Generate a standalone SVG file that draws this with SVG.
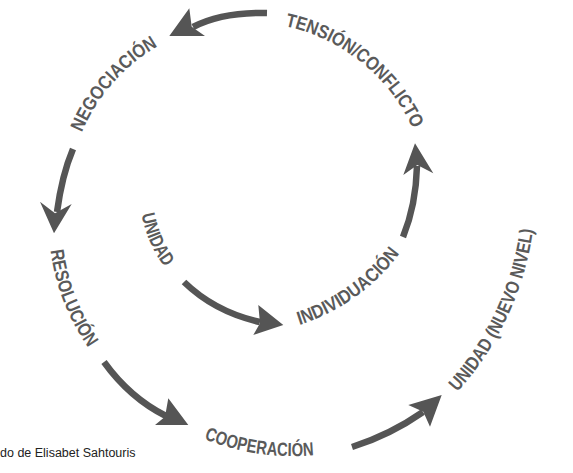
<svg xmlns="http://www.w3.org/2000/svg" width="573" height="473" viewBox="0 0 573 473">
<style>
.lbl{font-family:"Liberation Sans Narrow","Liberation Sans",Arial,sans-serif;font-weight:bold;font-size:19px;fill:#5a5a5a}
.shaft{fill:none;stroke:#555;stroke-width:6.5}
.head{fill:#555}
.credit{font-family:"Liberation Sans",Arial,sans-serif;font-size:12.5px;fill:#222}
</style>
<defs>
<path id="pTension" d="M285,26 A182.7,182.7 0 0 1 413.5,130.3"/>
<path id="pNeg" d="M81.8,132.6 A180,180 0 0 1 159.3,45.5"/>
<path id="pRes" d="M50.6,250.6 A220,220 0 0 0 89,348.8"/>
<path id="pCoop" d="M204,439 A240,240 0 0 0 316,455"/>
<path id="pUnN" d="M457.3,392 A300,300 0 0 0 533.2,227.8"/>
<path id="pInd" d="M299.4,324.9 A200,200 0 0 0 400.5,252.3"/>
<path id="pUni" d="M141.6,214.4 A130,130 0 0 0 165.5,268.5"/>
</defs>
<g id="connectors">
<g id="a1"><path class="shaft" d="M267,13 Q222,12 193,27"/><polygon class="head" points="189.3,8.3 169.3,36 205,36 191.7,26.7"/></g>
<g id="a2"><path class="shaft" d="M73,149 Q62,175 57,212"/><polygon class="head" points="40,201.7 54,233.3 71.7,204 55,213.3"/></g>
<g id="a3"><path class="shaft" d="M104,362 Q130,398 166,416"/><polygon class="head" points="168.3,398.3 188.3,425 155,425 165,416.7"/></g>
<g id="a4"><path class="shaft" d="M352,447 Q390,435 423,412"/><polygon class="head" points="408.3,405 441.7,395 430,426.7 423.3,411.7"/></g>
<g id="a5"><path class="shaft" d="M184,282 Q215,312 260,322"/><polygon class="head" points="258.3,305 283.3,325 253.3,335 260,323.3"/></g>
<g id="a6"><path class="shaft" d="M403,237 Q416,205 417,166"/><polygon class="head" points="403.3,175 415,143.3 433.3,173.3 417.3,165"/></g>
</g>
<g id="tension"><text class="lbl"><textPath href="#pTension" textLength="170" lengthAdjust="spacingAndGlyphs">TENSIÓN/CONFLICTO</textPath></text></g>
<g id="negociacion"><text class="lbl"><textPath href="#pNeg" textLength="117" lengthAdjust="spacingAndGlyphs">NEGOCIACIÓN</textPath></text></g>
<g id="resolucion"><text class="lbl"><textPath href="#pRes" textLength="105" lengthAdjust="spacingAndGlyphs">RESOLUCIÓN</textPath></text></g>
<g id="cooperacion"><text class="lbl"><textPath href="#pCoop" textLength="112" lengthAdjust="spacingAndGlyphs">COOPERACIÓN</textPath></text></g>
<g id="unidad-nuevo"><text class="lbl"><textPath href="#pUnN" textLength="182" lengthAdjust="spacingAndGlyphs">UNIDAD (NUEVO NIVEL)</textPath></text></g>
<g id="individuacion"><text class="lbl"><textPath href="#pInd" textLength="125" lengthAdjust="spacingAndGlyphs">INDIVIDUACIÓN</textPath></text></g>
<g id="unidad"><text class="lbl"><textPath href="#pUni" textLength="58" lengthAdjust="spacingAndGlyphs">UNIDAD</textPath></text></g>
<g id="credit"><text class="credit" x="0" y="457">do de Elisabet Sahtouris</text></g>
</svg>
